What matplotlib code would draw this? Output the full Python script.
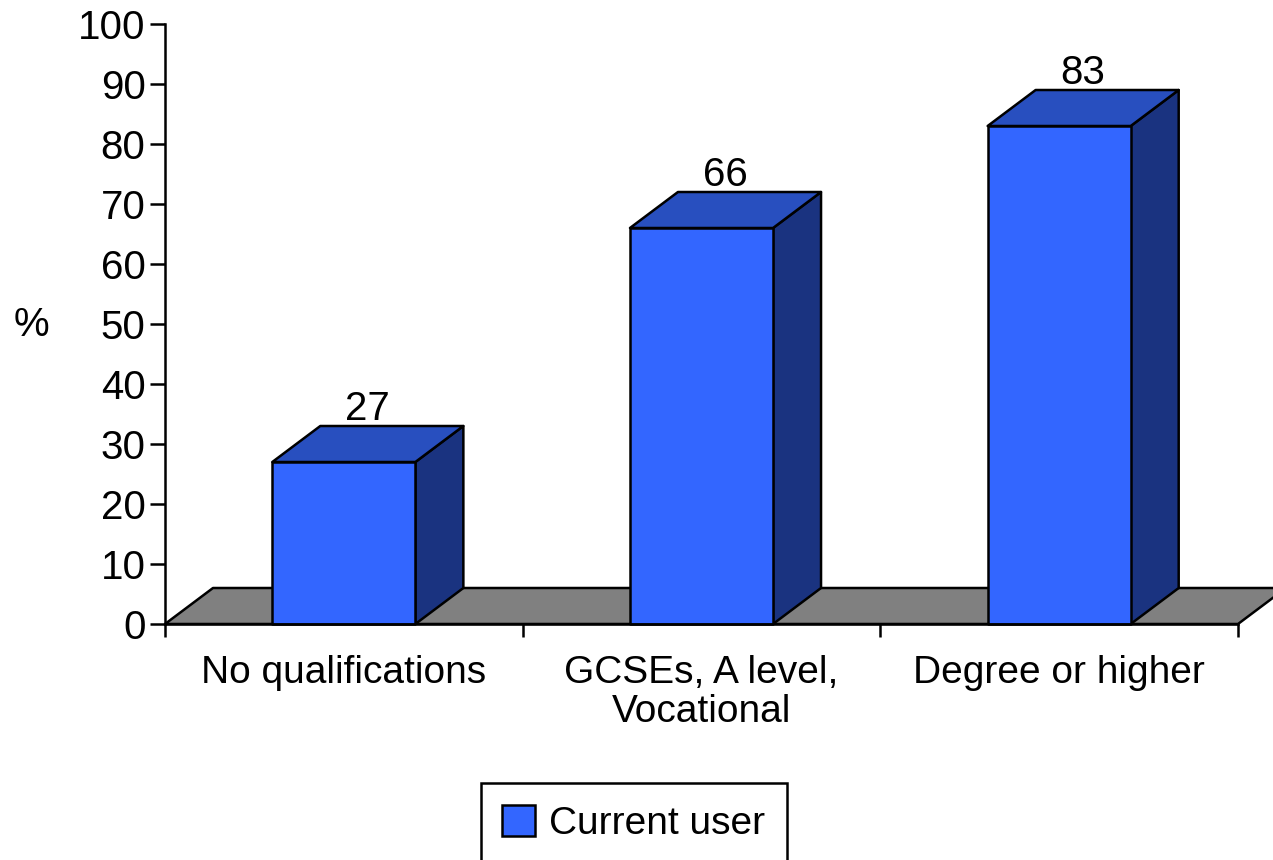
import matplotlib
matplotlib.use('Agg')
import matplotlib.pyplot as plt
from matplotlib.patches import Polygon, Patch

plt.rcParams['font.family'] = ['Liberation Sans', 'DejaVu Sans']

categories = ['No qualifications', 'GCSEs, A level,\nVocational', 'Degree or higher']
values = [27, 66, 83]
series_name = 'Current user'
yticks = list(range(0, 101, 10))

W, H = 1273, 860
FRONT = '#3366ff'
TOP = '#284fbf'
SIDE = '#1a3380'
FLOOR = '#808080'
DX = 48 / 357.67   # depth of the 3d look, in data units
DY = 6.0
HALF = 0.2
LW = 1.8
FS = 29

fig = plt.figure(figsize=(W / 100, H / 100), dpi=100)
ax = fig.add_axes([165 / W, 1 - 624 / H, (1238 - 165) / W, 600 / H])
ax.set_xlim(0, 3)
ax.set_ylim(0, 100)


def poly(pts, color, z):
    ax.add_patch(Polygon(pts, closed=True, facecolor=color, edgecolor='black',
                         linewidth=LW, clip_on=False, zorder=z, joinstyle='round'))


# floor
poly([(0, 0), (3, 0), (3 + DX, DY), (DX, DY)], FLOOR, 1)

# bars
for i, v in enumerate(values):
    c = i + 0.5
    x0, x1 = c - HALF, c + HALF
    poly([(x1, 0), (x1 + DX, DY), (x1 + DX, v + DY), (x1, v)], SIDE, 2)
    poly([(x0, v), (x1, v), (x1 + DX, v + DY), (x0 + DX, v + DY)], TOP, 2)
    poly([(x0, 0), (x1, 0), (x1, v), (x0, v)], FRONT, 3)
    ax.text(c + DX / 2, v + DY - 0.3, str(v), ha='center', va='bottom', fontsize=FS, color='black', zorder=4)

for s in ['top', 'right']:
    ax.spines[s].set_visible(False)
for s in ['left', 'bottom']:
    ax.spines[s].set_linewidth(LW)
    ax.spines[s].set_zorder(5)

ax.set_yticks(yticks)
ax.set_xticks([0, 1, 2, 3])
ax.set_xticklabels([])
ax.tick_params(axis='y', length=11, width=LW, labelsize=FS, pad=3)
ax.tick_params(axis='x', length=9, width=LW)

for i, cat in enumerate(categories):
    ax.annotate(cat, (i + 0.5, 0), xytext=(0, -22), textcoords='offset points', ha='center', va='top',
                fontsize=FS - 1, linespacing=1.12, annotation_clip=False)

fig.text(31 / W, 1 - 325 / H, '%', ha='center', va='center', fontsize=FS)

leg = fig.legend(handles=[Patch(facecolor=FRONT, edgecolor='black', linewidth=LW, label=series_name)],
                 loc='lower left', bbox_to_anchor=(481 / W, -3 / H), fontsize=FS - 1, frameon=True,
                 fancybox=False, edgecolor='black', framealpha=1, handlelength=0.85, handleheight=0.85,
                 handletextpad=0.35, borderpad=0.55, borderaxespad=0)
leg.get_frame().set_linewidth(LW)

fig.savefig('out.png', dpi=100)
